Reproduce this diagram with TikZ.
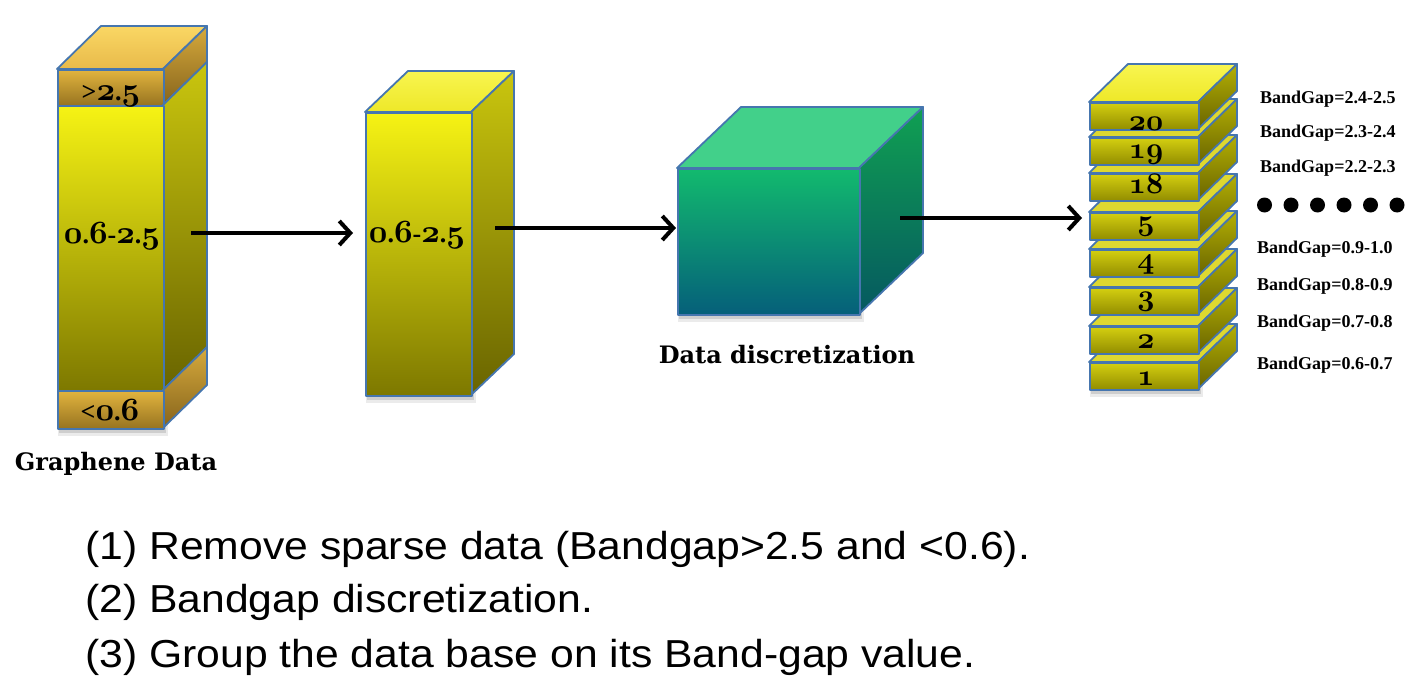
\documentclass[tikz,border=0pt]{standalone}
\usepackage{graphicx}
\usepackage{fontspec}
\newfontfamily\arialf[FakeStretch=1.095]{Liberation Sans}
\newfontfamily\timesf{Liberation Serif}
\newfontfamily\dvserif{DejaVu Serif}
\usetikzlibrary{arrows.meta}
\definecolor{bordc}{RGB}{70,118,175}
\definecolor{ytop}{RGB}{246,243,20}
\definecolor{ybot}{RGB}{125,120,0}
\definecolor{ystop}{RGB}{202,198,14}
\definecolor{ysbot}{RGB}{105,100,0}
\definecolor{yface1}{RGB}{248,245,80}
\definecolor{yface2}{RGB}{238,232,40}
\definecolor{otop}{RGB}{226,180,62}
\definecolor{obot}{RGB}{150,115,32}
\definecolor{ostop}{RGB}{214,170,60}
\definecolor{osbot}{RGB}{135,100,28}
\definecolor{oface1}{RGB}{250,215,100}
\definecolor{oface2}{RGB}{232,186,74}
\definecolor{gtop}{RGB}{18,186,110}
\definecolor{gbot}{RGB}{5,95,122}
\definecolor{gstop}{RGB}{16,160,82}
\definecolor{gsbot}{RGB}{5,88,96}
\definecolor{gface}{RGB}{66,208,138}
\definecolor{stop}{RGB}{212,207,16}
\definecolor{sbot}{RGB}{145,140,0}
\definecolor{sstop}{RGB}{180,176,4}
\definecolor{ssbot}{RGB}{105,100,0}
\definecolor{sface}{RGB}{222,216,48}
% bold old-style digits, scaled
\newcommand\os[2][1.3]{\scalebox{#1}{\fontencoding{OML}\fontfamily{cmm}\fontseries{b}\fontshape{it}\fontsize{24.88}{24.88}\selectfont #2}}
\newcommand\shad[4]{%
  \fill[black,opacity=0.08] (#1+1,#4-4) rectangle (#3+5,#4+8);
  \fill[black,opacity=0.12] (#1+2,#4-3) rectangle (#3+3,#4+5);}
\begin{document}
\begin{tikzpicture}[x=1pt,y=-1pt,line join=round,
  edge/.style={draw=bordc,line width=1.8pt},
  yfront/.style={edge,top color=ytop,bottom color=ybot,inner sep=0,anchor=north west},
  yside/.style={edge,top color=ystop,bottom color=ysbot},
  ytopf/.style={edge,top color=yface1,bottom color=yface2},
  ofront/.style={edge,top color=otop,bottom color=obot,inner sep=0,anchor=north west},
  oside/.style={edge,top color=ostop,bottom color=osbot},
  otopf/.style={edge,top color=oface1,bottom color=oface2},
  gfront/.style={edge,top color=gtop,bottom color=gbot,inner sep=0,anchor=north west},
  gside/.style={edge,top color=gstop,bottom color=gsbot},
  gtopf/.style={edge,fill=gface},
  sfront/.style={edge,top color=stop,bottom color=sbot,inner sep=0,anchor=north west,minimum width=109pt,minimum height=27pt},
  sside/.style={edge,top color=sstop,bottom color=ssbot},
  stopf/.style={edge,fill=sface},
  blab/.style={font=\timesf\bfseries\fontsize{26}{26}\selectfont,anchor=base,inner sep=0},
  nlab/.style={anchor=base,inner sep=0},
  tlab/.style={font=\dvserif\bfseries\fontsize{24}{24}\selectfont,anchor=base,inner sep=0},
  bg/.style={font=\timesf\bfseries\fontsize{18}{18}\selectfont,anchor=base west,inner sep=0},
  btxt/.style={font=\arialf\fontsize{39}{39}\selectfont,anchor=base west,inner sep=0},
  arr/.style={line width=4pt,-{Straight Barb[length=11pt,width=24pt]}}]
\useasboundingbox (0,0) rectangle (1424,685);

% ---------- left column ----------
\shad{57}{69}{163}{428}
\path[otopf] (57,69) -- (101,26) -- (207,26) -- (163,69) -- cycle;
\path[oside] (163,69) -- (207,26) -- (207,62) -- (163,105) -- cycle;
\node[ofront,minimum width=106pt,minimum height=36pt] (gt) at (57,69) {};
\path[yside] (163,105) -- (207,62) -- (207,347) -- (163,390) -- cycle;
\node[yfront,minimum width=106pt,minimum height=285pt] (gm) at (57,105) {};
\path[oside] (163,390) -- (207,347) -- (207,385) -- (163,428) -- cycle;
\node[ofront,minimum width=106pt,minimum height=38pt] (gb) at (57,390) {};
\node[blab] (lt) at (111,100) {>\os{2}.\os{5}};
\node[blab] (lm) at (112,243) {\os{0}.\os{6}-\os{2}.\os{5}};
\node[blab] (lb) at (110,420) {<\os{0}.\os{6}};
\node[tlab] (gd) at (116,470) {Graphene Data};

% ---------- middle column ----------
\shad{365}{112}{471}{395}
\path[ytopf] (365,112) -- (408,71) -- (514,71) -- (471,112) -- cycle;
\path[yside] (471,112) -- (514,71) -- (514,354) -- (471,395) -- cycle;
\node[yfront,minimum width=106pt,minimum height=283pt] (mf) at (365,112) {};
\node[blab] (ml) at (417,242) {\os{0}.\os{6}-\os{2}.\os{5}};

% ---------- cube ----------
\shad{677}{168}{859}{314}
\path[gtopf] (677,168) -- (741,107) -- (923,107) -- (859,168) -- cycle;
\path[gside] (859,168) -- (923,107) -- (923,253) -- (859,314) -- cycle;
\node[gfront,minimum width=182pt,minimum height=146pt] (cf) at (677,168) {};
\node[tlab] (dd) at (787,363) {Data discretization};

% ---------- stack ----------
\shad{1089}{362}{1198}{389}
\foreach \yy/\lab/\bl in {362/1/385,326/2/348,287/3/305,249/4/268,212/5/230,173/18/193,137/19/158,102/20/130}{
  \ifnum\lab=20
    \path[ytopf] (1089,\yy) -- (1128,\yy-38) -- (1237,\yy-38) -- (1198,\yy) -- cycle;
  \else
    \path[stopf] (1089,\yy) -- (1128,\yy-38) -- (1237,\yy-38) -- (1198,\yy) -- cycle;
  \fi
  \path[sside] (1198,\yy) -- (1237,\yy-38) -- (1237,\yy-11) -- (1198,\yy+27) -- cycle;
  \node[sfront] (s\lab) at (1089,\yy) {};
  \node[nlab] (n\lab) at (1146,\bl) {\os[1.2]{\lab}};
}

% ---------- band gap labels ----------
\node[bg] (b20) at (1260,103) {BandGap=2.4-2.5};
\node[bg] (b19) at (1260,137) {BandGap=2.3-2.4};
\node[bg] (b18) at (1260,172) {BandGap=2.2-2.3};
\node[bg] (b5) at (1257,253) {BandGap=0.9-1.0};
\node[bg] (b4) at (1257,290) {BandGap=0.8-0.9};
\node[bg] (b3) at (1257,327) {BandGap=0.7-0.8};
\node[bg] (b2) at (1257,369) {BandGap=0.6-0.7};
\foreach \i in {0,...,5}
  \node[circle,fill=black,minimum size=15pt,inner sep=0] (dot\i) at (1264.5+26.5*\i,205) {};

% ---------- arrows ----------
\coordinate (a1) at (191,233);
\coordinate (a2) at (495,228);
\coordinate (a3) at (900,218);
\draw[arr,shorten >=12pt] (a1) -- (a1 -| mf.west);
\draw[arr,shorten >=1pt] (a2) -- (a2 -| cf.west);
\draw[arr,shorten >=7pt] (a3) -- (a3 -| s5.west);

% ---------- bottom text ----------
\node[btxt] (t1) at (85,559) {(1) Remove sparse data (Bandgap>2.5 and <0.6).};
\node[btxt] (t2) at (85,612) {(2) Bandgap discretization.};
\node[btxt] (t3) at (85,667) {(3) Group the data base on its Band-gap value.};
\end{tikzpicture}
\end{document}
